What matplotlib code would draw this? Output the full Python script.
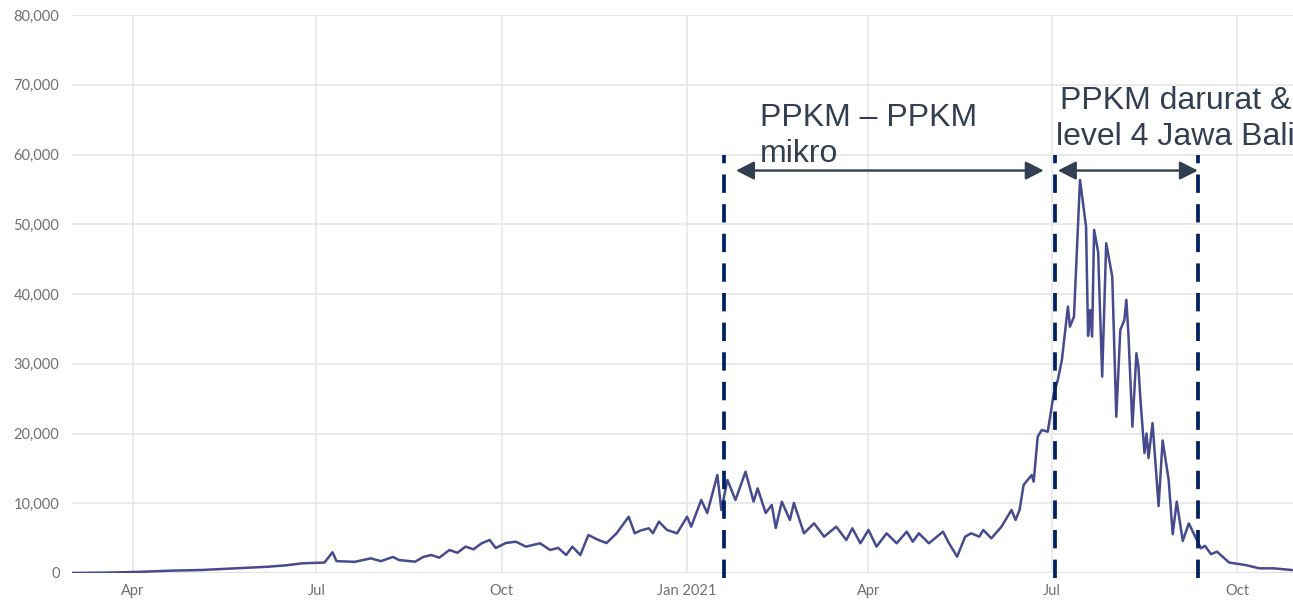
import matplotlib
matplotlib.use("Agg")
import matplotlib.pyplot as plt
import pandas as pd
from matplotlib.ticker import FuncFormatter

# ---------------- data ----------------
dates = [
    "2020-03-02", "2020-03-18", "2020-04-03", "2020-04-19", "2020-05-05", "2020-05-22",
    "2020-06-07", "2020-06-16", "2020-06-24", "2020-07-05", "2020-07-09", "2020-07-11",
    "2020-07-20", "2020-07-28", "2020-08-02", "2020-08-08", "2020-08-11", "2020-08-19",
    "2020-08-23", "2020-08-27", "2020-08-31", "2020-09-05", "2020-09-09", "2020-09-13",
    "2020-09-17", "2020-09-21", "2020-09-25", "2020-09-28", "2020-10-03", "2020-10-08",
    "2020-10-13", "2020-10-20", "2020-10-25", "2020-10-29", "2020-11-02", "2020-11-05",
    "2020-11-09", "2020-11-13", "2020-11-18", "2020-11-22", "2020-11-27", "2020-12-03",
    "2020-12-06", "2020-12-09", "2020-12-13", "2020-12-15", "2020-12-18", "2020-12-22",
    "2020-12-27", "2021-01-01", "2021-01-03", "2021-01-08", "2021-01-11", "2021-01-16",
    "2021-01-18", "2021-01-21", "2021-01-25", "2021-01-30", "2021-02-03", "2021-02-05",
    "2021-02-09", "2021-02-12", "2021-02-14", "2021-02-17", "2021-02-21", "2021-02-23",
    "2021-02-28", "2021-03-05", "2021-03-10", "2021-03-16", "2021-03-21", "2021-03-24",
    "2021-03-28", "2021-04-01", "2021-04-05", "2021-04-10", "2021-04-15", "2021-04-20",
    "2021-04-23", "2021-04-26", "2021-05-01", "2021-05-08", "2021-05-11", "2021-05-15",
    "2021-05-19", "2021-05-22", "2021-05-26", "2021-05-28", "2021-06-01", "2021-06-06",
    "2021-06-11", "2021-06-13", "2021-06-15", "2021-06-17", "2021-06-21", "2021-06-22",
    "2021-06-24", "2021-06-26", "2021-06-29", "2021-07-02", "2021-07-04", "2021-07-06",
    "2021-07-09", "2021-07-10", "2021-07-12", "2021-07-15", "2021-07-18", "2021-07-19",
    "2021-07-20", "2021-07-21", "2021-07-22", "2021-07-24", "2021-07-26", "2021-07-28",
    "2021-07-31", "2021-08-02", "2021-08-04", "2021-08-06", "2021-08-07", "2021-08-08",
    "2021-08-10", "2021-08-12", "2021-08-13", "2021-08-14", "2021-08-16", "2021-08-17",
    "2021-08-18", "2021-08-20", "2021-08-23", "2021-08-25", "2021-08-28", "2021-08-30",
    "2021-09-01", "2021-09-04", "2021-09-07", "2021-09-13", "2021-09-15", "2021-09-18",
    "2021-09-21", "2021-09-27", "2021-10-05", "2021-10-12", "2021-10-19", "2021-10-28",
]
cases = [
    2, 50, 150, 330, 430, 670,
    900, 1100, 1390, 1500, 2970, 1700,
    1600, 2100, 1700, 2300, 1860, 1620,
    2300, 2580, 2200, 3300, 2900, 3780,
    3400, 4260, 4730, 3580, 4300, 4490,
    3780, 4260, 3300, 3600, 2580, 3780,
    2580, 5450, 4730, 4300, 5690, 8070,
    5690, 6100, 6410, 5700, 7360, 6170,
    5690, 8070, 6640, 10470, 8600, 14050,
    9030, 13340, 10470, 14530, 10230, 12140,
    8600, 9750, 6450, 10230, 7600, 10040,
    5690, 7120, 5210, 6640, 4730, 6410,
    4260, 6170, 3780, 5690, 4260, 5930,
    4490, 5690, 4260, 5930, 4260, 2340,
    5210, 5690, 5210, 6170, 4970, 6640,
    9030, 7600, 9030, 12620, 14050, 13100,
    19550, 20500, 20260, 25770, 27680, 30540,
    38190, 35320, 36750, 56350, 49660, 34000,
    37700, 33900, 49190, 46000, 28150, 47280,
    42490, 22410, 34850, 36280, 39150, 34370,
    20980, 31500, 29580, 24810, 17200, 20000,
    16500, 21500, 9600, 19000, 13340, 5570,
    10230, 4610, 7120, 3540, 3900, 2700,
    3060, 1500, 1150, 670, 670, 430,
]

tick_dates = ["2020-04-01", "2020-07-01", "2020-10-01", "2021-01-01",
              "2021-04-01", "2021-07-01", "2021-10-01"]
tick_labels = ["Apr", "Jul", "Oct", "Jan 2021", "Apr", "Jul", "Oct"]
y_ticks = [0, 10000, 20000, 30000, 40000, 50000, 60000, 70000, 80000]

policy_dates = ["2021-01-19 08:00", "2021-07-02 15:00", "2021-09-11 19:00"]
policy_top = 60000
arrow_spans = [("2021-01-25 06:00", "2021-06-27 00:00"),
               ("2021-07-04 00:00", "2021-09-11 12:00")]
arrow_level = 57700
labels = ["PPKM \u2013 PPKM\nmikro", "PPKM darurat &\nlevel 4 Jawa Bali"]
label_pos = [("2021-02-06 00:00", 67350, "left"), ("2021-08-31 12:00", 69800, "center")]

# ---------------- figure ----------------
fig = plt.figure(figsize=(12.93, 6.07), dpi=100)
ax = fig.add_axes([72 / 1293, 34 / 607, 1 - 72 / 1293, (573 - 15) / 607])

x = pd.to_datetime(dates)
ax.plot(x, cases, color="#474a8d", lw=1.8, solid_joinstyle="round", zorder=3)

ax.set_xlim(pd.Timestamp("2020-03-01 17:00"), pd.Timestamp("2021-10-28 17:00"))
ax.set_ylim(0, 80000)

ax.set_xticks(pd.to_datetime(tick_dates))
ax.set_xticklabels(tick_labels)
ax.set_yticks(y_ticks)
ax.yaxis.set_major_formatter(FuncFormatter(lambda v, p: f"{int(v):,}"))

for s in ax.spines.values():
    s.set_visible(False)
ax.tick_params(axis="both", length=0, colors="#707070", labelsize=10.5)
ax.tick_params(axis="y", pad=9)
ax.tick_params(axis="x", pad=8)
for lab in ax.get_xticklabels() + ax.get_yticklabels():
    lab.set_fontfamily("Lato")

ax.grid(True, color="#e6e6e6", lw=1.2, zorder=0)
ax.axhline(0, color="#d2d2d2", lw=1.6, zorder=1)

# policy dashed lines
for d in policy_dates:
    ax.plot([pd.Timestamp(d)] * 2, [-700, policy_top], color="#002060", lw=2.7,
            dashes=(4.9, 3.0), clip_on=False, zorder=4)

# arrows
for a, b in arrow_spans:
    ax.annotate("", xy=(pd.Timestamp(b), arrow_level), xytext=(pd.Timestamp(a), arrow_level),
                arrowprops=dict(arrowstyle="<|-|>,head_length=0.55,head_width=0.28",
                                mutation_scale=20, lw=1.7, color="#333f50",
                                shrinkA=0, shrinkB=0), zorder=5)

# labels
for t, (d, yv, ha) in zip(labels, label_pos):
    ax.text(pd.Timestamp(d), yv, t, ha=ha, va="top", fontsize=23,
            family="Liberation Sans", color="#333f50", linespacing=1.25,
            clip_on=False, zorder=6)

fig.savefig("out.png", dpi=100)
